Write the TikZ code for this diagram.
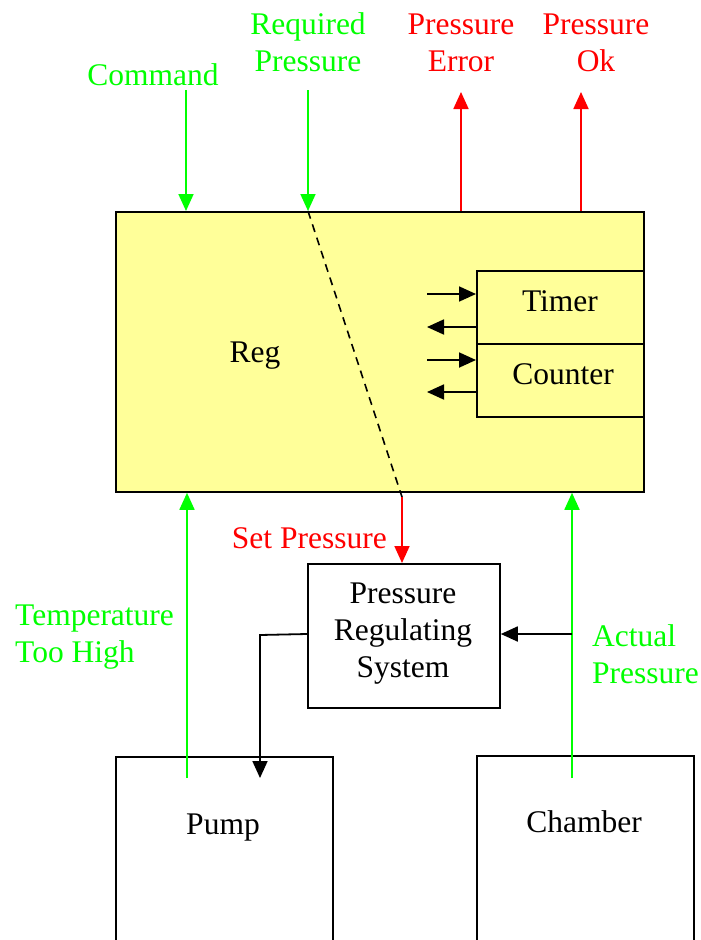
\documentclass[tikz,border=0pt]{standalone}
\usepackage{fontspec}
\setmainfont{Liberation Serif}
\usetikzlibrary{arrows.meta}
\definecolor{sgreen}{RGB}{0,255,0}
\definecolor{sred}{RGB}{255,0,0}
\definecolor{regyellow}{RGB}{255,255,153}
\begin{document}
\begin{tikzpicture}[x=1pt,y=-1pt,
  box/.style={draw=black, line width=1.8pt, rectangle, inner sep=0pt, anchor=north west},
  txt/.style={font=\fontsize{31.5}{37}\selectfont, align=center, inner sep=0pt, anchor=base},
  ltxt/.style={font=\fontsize{31.5}{37}\selectfont, align=left, inner sep=0pt, anchor=base west},
  rtxt/.style={font=\fontsize{31.5}{37}\selectfont, inner sep=0pt, anchor=base east},
  tip/.style={-{Triangle[length=17pt,width=15pt]}},
  gline/.style={draw=sgreen, line width=1.8pt},
  rline/.style={draw=sred, line width=1.8pt},
  bline/.style={draw=black, line width=1.8pt}]
\useasboundingbox (0,0) rectangle (701,940);
\fill[white] (0,0) rectangle (701,940);

% main boxes
\node[box, fill=regyellow, minimum width=528pt, minimum height=280pt] (reg) at (115,211) {};
\node[txt] (reglbl) at (255,362) {Reg};
\node[box, fill=regyellow, minimum width=167pt, minimum height=73pt] (timer) at (476,270) {};
\node[box, fill=regyellow, minimum width=167pt, minimum height=73pt] (counter) at (476,343) {};
\node[txt] (timerlbl) at (560,311) {Timer};
\node[txt] (counterlbl) at (563,384) {Counter};

\node[box, minimum width=192pt, minimum height=144pt] (prs) at (307,563) {};
\node[txt] (prslbl) at (403,677) {Pressure\\Regulating\\System};

\node[box, minimum width=217pt, minimum height=220pt] (pump) at (115,756) {};
\node[txt] (pumplbl) at (223,834) {Pump};
\node[box, minimum width=217pt, minimum height=220pt] (chamber) at (476,755) {};
\node[txt] (chamberlbl) at (584,832) {Chamber};

% timer / counter arrows
\coordinate (ti) at (427,294);
\coordinate (to) at (427,327);
\coordinate (ci) at (427,360);
\coordinate (co) at (427,392);
\draw[bline, tip] (ti) -- (ti -| timer.west);
\draw[bline, tip] (to -| timer.west) -- (to);
\draw[bline, tip] (ci) -- (ci -| counter.west);
\draw[bline, tip] (co -| counter.west) -- (co);

% top signals
\node[txt, text=sgreen] (cmd) at (153,85) {Command};
\node[txt, text=sgreen] (req) at (308,71) {Required\\Pressure};
\node[txt, text=sred] (perr) at (461,71) {Pressure\\Error};
\node[txt, text=sred] (pok) at (596,71) {Pressure\\Ok};

\coordinate (cmdtop) at (186,90);
\coordinate (reqtop) at (308,90);
\coordinate (errtop) at (461,92);
\coordinate (oktop) at (581,92);
\draw[gline, tip] (cmdtop) -- (cmdtop |- reg.north);
\draw[gline, tip] (reqtop) -- (reqtop |- reg.north);
\draw[rline, tip] (errtop |- reg.north) -- (errtop);
\draw[rline, tip] (oktop |- reg.north) -- (oktop);

% dashed internal path
\coordinate (dashend) at (402,497);
\draw[black, line width=1.6pt, dash pattern=on 8pt off 6pt] (reqtop |- reg.north) -- (dashend);
\draw[rline, tip] (dashend) -- (dashend |- prs.north);
\node[rtxt, text=sred] (setp) at (387,548) {Set Pressure};

% PRS to pump
\coordinate (prsl) at (307,634);
\coordinate (bend) at (260,635);
\coordinate (pumpin) at (260,778);
\draw[bline, tip] (prs.west |- prsl) -- (bend) -- (pumpin);

% pump temperature
\coordinate (tempbot) at (187,778);
\draw[gline, tip] (tempbot) -- (tempbot |- reg.south);
\node[ltxt, text=sgreen] (temp) at (15,662) {Temperature\\Too High};

% chamber actual pressure
\coordinate (actbot) at (572,778);
\coordinate (actmid) at (572,634);
\draw[gline, tip] (actbot) -- (actbot |- reg.south);
\draw[bline, tip] (actmid) -- (actmid -| prs.east);
\node[ltxt, text=sgreen] (act) at (592,683) {Actual\\Pressure};
\end{tikzpicture}
\end{document}
